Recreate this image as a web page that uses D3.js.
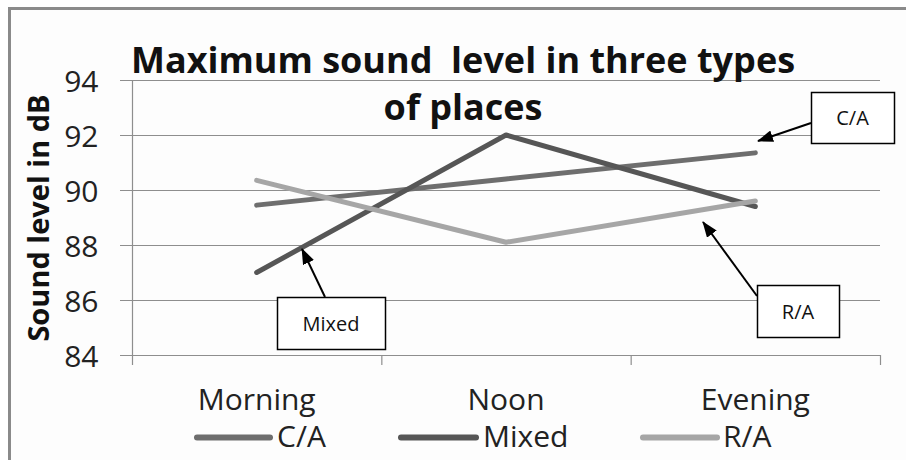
<!DOCTYPE html>
<html>
<head>
<meta charset="utf-8">
<script src="https://cdn.jsdelivr.net/npm/d3@7"></script>
<style>
  body { margin: 0; background: #fff; }
  svg { display: block; }
  svg text { font-family: "Open Sans", Lato, sans-serif; }
</style>
</head>
<body>
<svg id="chart" width="906" height="460"></svg>
<script>
// chart data
const categories = ["Morning", "Noon", "Evening"];
const seriesNames = ["C/A", "Mixed", "R/A"];
const caValues = [89.45, 90.4, 91.35];
const mixedValues = [87.0, 92.0, 89.4];
const raValues = [90.35, 88.1, 89.6];
const yTicks = [84, 86, 88, 90, 92, 94];
const titleLines = ["Maximum sound  level in three types", "of places"];
const yTitle = "Sound level in dB";

const colors = { "C/A": "#6e6e6e", "Mixed": "#565656", "R/A": "#a6a6a6" };
const series = [
  { name: "C/A", values: caValues },
  { name: "Mixed", values: mixedValues },
  { name: "R/A", values: raValues }
];

const svg = d3.select("#chart");

// outer frame (only top/left edges fall inside the picture)
svg.append("rect")
  .attr("x", 9.5).attr("y", 8.5)
  .attr("width", 910).attr("height", 470)
  .attr("fill", "#fdfdfd")
  .attr("stroke", "#8a8a8a")
  .attr("stroke-width", 3);

const x = d3.scaleBand().domain(categories).range([132, 880]).padding(0);
const y = d3.scaleLinear().domain([84, 94]).range([355, 80]);
const cx = d => x(d) + x.bandwidth() / 2;

// gridlines
svg.append("g").attr("class", "grid")
  .selectAll("line")
  .data(yTicks)
  .join("line")
  .attr("x1", 120).attr("x2", 880)
  .attr("y1", d => Math.round(y(d)) + 0.5)
  .attr("y2", d => Math.round(y(d)) + 0.5)
  .attr("stroke", "#8e8e8e")
  .attr("stroke-width", 1.2);

// y axis
const yAxis = svg.append("g")
  .attr("transform", "translate(132.5,0.5)")
  .call(d3.axisLeft(y).tickValues(yTicks).tickSize(0).tickSizeOuter(0).tickPadding(34));
yAxis.select(".domain").remove();
yAxis.selectAll("text")
  .attr("fill", "#222")
  .style("font-size", "30px")
  .attr("dy", "0.36em");

svg.append("line")
  .attr("x1", 132.5).attr("x2", 132.5)
  .attr("y1", y(94)).attr("y2", y(84) + 10)
  .attr("stroke", "#8e8e8e").attr("stroke-width", 1.2);

// x axis boundary ticks
const xBounds = categories.map(c => x(c)).concat([x.range()[1]]);
svg.append("g")
  .selectAll("line")
  .data(xBounds.slice(1))
  .join("line")
  .attr("x1", d => d + 0.5).attr("x2", d => d + 0.5)
  .attr("y1", y(84)).attr("y2", y(84) + 10)
  .attr("stroke", "#8e8e8e").attr("stroke-width", 1.2);

// category labels
svg.append("g")
  .selectAll("text")
  .data(categories)
  .join("text")
  .attr("x", d => cx(d))
  .attr("y", 410)
  .attr("text-anchor", "middle")
  .attr("fill", "#222")
  .style("font-size", "30px")
  .text(d => d);

// series lines
const line = d3.line()
  .x((d, i) => cx(categories[i]))
  .y(d => y(d));

svg.append("g")
  .selectAll("path")
  .data(series)
  .join("path")
  .attr("d", d => line(d.values))
  .attr("fill", "none")
  .attr("stroke", d => colors[d.name])
  .attr("stroke-width", 5)
  .attr("stroke-linecap", "round")
  .attr("stroke-linejoin", "round");

// title
svg.append("g")
  .selectAll("text")
  .data(titleLines)
  .join("text")
  .attr("x", 463)
  .attr("y", (d, i) => 73 + i * 47)
  .attr("text-anchor", "middle")
  .attr("font-weight", "bold")
  .attr("fill", "#111")
  .style("font-size", "36px")
  .style("white-space", "pre")
  .text(d => d);

// y title
svg.append("text")
  .attr("transform", "translate(49,218) rotate(-90)")
  .attr("text-anchor", "middle")
  .attr("font-weight", "bold")
  .attr("fill", "#111")
  .style("font-size", "29px")
  .text(yTitle);

// legend
const legendItems = [
  { name: "C/A", x1: 197, x2: 270, tx: 277 },
  { name: "Mixed", x1: 401, x2: 476, tx: 483 },
  { name: "R/A", x1: 643, x2: 717, tx: 723 }
];
const lg = svg.append("g").selectAll("g").data(legendItems).join("g");
lg.append("line")
  .attr("x1", d => d.x1).attr("x2", d => d.x2)
  .attr("y1", 437.5).attr("y2", 437.5)
  .attr("stroke", d => colors[d.name])
  .attr("stroke-width", 6)
  .attr("stroke-linecap", "round");
lg.append("text")
  .attr("x", d => d.tx)
  .attr("y", 447)
  .attr("fill", "#222")
  .style("font-size", "30px")
  .text(d => d.name);

// callouts
svg.append("defs").append("marker")
  .attr("id", "arrow")
  .attr("viewBox", "0 0 16 12")
  .attr("refX", 15).attr("refY", 6)
  .attr("markerWidth", 16).attr("markerHeight", 12)
  .attr("markerUnits", "userSpaceOnUse")
  .attr("orient", "auto")
  .append("path")
  .attr("d", "M0,0L16,6L0,12Z")
  .attr("fill", "#000");

const callouts = [
  { text: "C/A", box: [811, 92, 83, 51], from: [811, 123], to: [758, 141] },
  { text: "R/A", box: [757, 285, 82, 52], from: [757, 296], to: [703, 222] },
  { text: "Mixed", box: [277, 297, 108, 52], from: [325, 297], to: [302, 249] }
];
const cg = svg.append("g").selectAll("g").data(callouts).join("g");
cg.append("line")
  .attr("x1", d => d.from[0]).attr("y1", d => d.from[1])
  .attr("x2", d => d.to[0]).attr("y2", d => d.to[1])
  .attr("stroke", "#000").attr("stroke-width", 2)
  .attr("marker-end", "url(#arrow)");
cg.append("rect")
  .attr("x", d => d.box[0] + 0.5).attr("y", d => d.box[1] + 0.5)
  .attr("width", d => d.box[2]).attr("height", d => d.box[3])
  .attr("fill", "#fff")
  .attr("stroke", "#000").attr("stroke-width", 1.5);
cg.append("text")
  .attr("x", d => d.box[0] + d.box[2] / 2)
  .attr("y", d => d.box[1] + d.box[3] / 2 + 7.5)
  .attr("text-anchor", "middle")
  .attr("fill", "#111")
  .style("font-size", "20px")
  .text(d => d.text);
</script>
</body>
</html>
